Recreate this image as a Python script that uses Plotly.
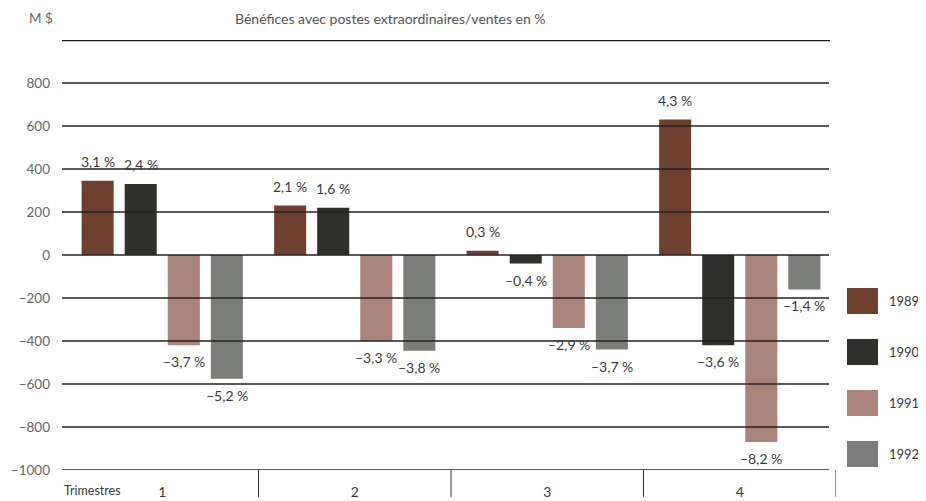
import plotly.graph_objects as go

# ---- data ----
quarters = [1, 2, 3, 4]
quarter_labels = ["1", "2", "3", "4"]
years = ["1989", "1990", "1991", "1992"]
v1989 = [345, 230, 20, 630]
v1990 = [330, 220, -40, -420]
v1991 = [-420, -400, -340, -870]
v1992 = [-575, -445, -440, -160]
p1989 = ["3,1 %", "2,1 %", "0,3 %", "4,3 %"]
p1990 = ["2,4 %", "1,6 %", "–0,4 %", "–3,6 %"]
p1991 = ["–3,7 %", "–3,3 %", "–2,9 %", "–8,2 %"]
p1992 = ["–5,2 %", "–3,8 %", "–3,7 %", "–1,4 %"]
y_ticks = [800, 600, 400, 200, 0, -200, -400, -600, -800, -1000]
title_text = "Bénéfices avec postes extraordinaires/ventes en %"
unit_text = "M $"
axis_text = "Trimestres"

values = [v1989, v1990, v1991, v1992]
pcts = [p1989, p1990, p1991, p1992]
colors = ["#6e402f", "#2f2f2b", "#a9847b", "#7b7d78"]

# page body has an 8px default margin: work in reference pixels minus OFF
OFF = 8
W, H = 926 - OFF, 501 - OFF
ML, MT = 66 - OFF, 40 - OFF
PW, PH = 770, 430
MR, MB = W - ML - PW, H - MT - PH
FONT = "Lato"
TXT = "#3a3a3a"

def px_x(px):
    return (px - OFF - ML) / PW

def px_y(py):
    return (MT + PH - (py - OFF)) / PH

bargap = 0.105
slot = (1 - bargap) / len(years)

fig = go.Figure()
annotations = []
for i, (yr, vals, pc, col) in enumerate(zip(years, values, pcts, colors)):
    fig.add_trace(go.Bar(x=quarters, y=vals, name=yr, marker=dict(color=col, line=dict(width=0)),
                         showlegend=False))
    for q, v, t in zip(quarters, vals, pc):
        xpos = q + (i - (len(years) - 1) / 2) * slot
        annotations.append(dict(x=xpos, y=v, text=t, showarrow=False, xref="x", yref="y",
                                yanchor="bottom" if v >= 0 else "top",
                                yshift=9 if v >= 0 else -6,
                                font=dict(family=FONT, size=14, color=TXT)))

shapes = []
# gridlines (drawn over bars, like the print)
for t in y_ticks:
    shapes.append(dict(type="line", xref="paper", yref="y", x0=px_x(62), x1=px_x(829), y0=t, y1=t,
                       layer="above", line=dict(color="#222", width=1.3)))
# thick top line at 1000
shapes.append(dict(type="line", xref="paper", yref="y", x0=px_x(62), x1=px_x(830), y0=1000, y1=1000,
                   line=dict(color="#1a1a1a", width=2.4)))
# quarter dividers below the axis
for b in [1.5, 2.5, 3.5, 4.5]:
    shapes.append(dict(type="line", xref="x", yref="paper", x0=b, x1=b, y0=0, y1=px_y(497),
                       line=dict(color="#333", width=1)))

# legend (manual, large squares)
for i, (yr, col) in enumerate(zip(years, colors)):
    top = 288 + i * 51
    shapes.append(dict(type="rect", xref="paper", yref="paper",
                       x0=px_x(847), x1=px_x(878), y0=px_y(top + 26), y1=px_y(top),
                       fillcolor=col, line=dict(width=0)))
    annotations.append(dict(x=px_x(887), y=px_y(top + 13), xref="paper", yref="paper",
                            text=yr, showarrow=False, xanchor="left", yanchor="middle",
                            font=dict(family=FONT, size=13, color=TXT)))

annotations.append(dict(x=px_x(390), y=px_y(18), xref="paper", yref="paper", text=title_text,
                        showarrow=False, xanchor="center", yanchor="middle",
                        font=dict(family=FONT, size=14, color="#555")))
annotations.append(dict(x=px_x(41), y=px_y(18), xref="paper", yref="paper", text=unit_text,
                        showarrow=False, xanchor="center", yanchor="middle",
                        font=dict(family=FONT, size=13.5, color="#666")))
annotations.append(dict(x=px_x(62), y=px_y(491), xref="paper", yref="paper", text=axis_text,
                        showarrow=False, xanchor="left", yanchor="middle",
                        font=dict(family=FONT, size=12.5, color=TXT)))

fig.update_layout(
    width=W, height=H,
    margin=dict(l=ML, r=MR, t=MT, b=MB, pad=0, autoexpand=False),
    paper_bgcolor="white", plot_bgcolor="white",
    barmode="group", bargap=bargap, bargroupgap=0.256,
    shapes=shapes, annotations=annotations,
    xaxis=dict(range=[0.5, 4.5], tickvals=quarters, ticktext=quarter_labels, showgrid=False,
               zeroline=False, showline=False, ticks="", ticklabelstandoff=12, automargin=False,
               tickfont=dict(family=FONT, size=14, color=TXT)),
    yaxis=dict(range=[-1000, 1000], tickvals=y_ticks, showgrid=False, zeroline=False,
               showline=False, ticks="", ticklabelstandoff=15, automargin=False,
               tickfont=dict(family=FONT, size=13.5, color="#666")),
    font=dict(family=FONT),
)

fig.write_html("out.html")
